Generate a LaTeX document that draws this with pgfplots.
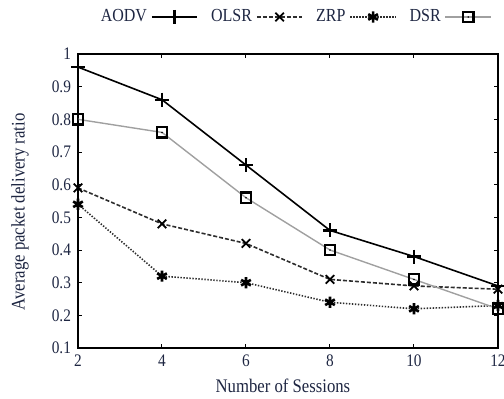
\documentclass[border=0pt]{standalone}
\usepackage{fontspec}
\setmainfont{Liberation Serif}[FakeStretch=0.87]
\usepackage{pgfplots}
\pgfplotsset{compat=1.18}
\definecolor{txt}{RGB}{30,38,66}
\definecolor{dk}{RGB}{45,45,45}
\definecolor{lg}{RGB}{160,160,160}
\pgfdeclareplotmark{boxdot}{%
  \pgfpathrectangle{\pgfpoint{-\pgfplotmarksize}{-\pgfplotmarksize}}{\pgfpoint{2\pgfplotmarksize}{2\pgfplotmarksize}}%
  \pgfusepathqstroke
  \pgfpathcircle{\pgfpointorigin}{0.45pt}%
  \pgfusepathqfill}
\begin{document}
\begin{tikzpicture}
\begin{axis}[
  scale only axis, width=210pt, height=147pt,
  xmin=2, xmax=12, ymin=0.1, ymax=1,
  xtick={2,4,6,8,10,12},
  ytick={0.1,0.2,0.3,0.4,0.5,0.6,0.7,0.8,0.9,1},
  tick align=inside, major tick length=2.2pt,
  axis line style={line width=0.6pt},
  tick style={black, line width=0.5pt},
  /pgf/number format/assume math mode=true,
  ticklabel style={font=\fontsize{8.8}{10}\selectfont, text=txt},
  xlabel={Number of Sessions},
  ylabel={Average packet delivery ratio},
  label style={font=\fontsize{9.6}{11}\selectfont, text=txt},
  x label style={at={(axis description cs:0.488,-0.129)}, anchor=center},
  y label style={at={(axis description cs:-0.138,0.463)}, anchor=center},
  legend plot pos=right,
  legend columns=4,
  legend image code/.code={\draw[mark repeat=2,mark phase=2] plot coordinates {(0cm,0cm) (0.4cm,0cm) (0.8cm,0cm)};},
  legend style={at={(axis description cs:0.986,1.126)}, anchor=east, draw=none, fill=none,
    font=\fontsize{9.2}{10}\selectfont, text=txt, inner sep=0pt,
    /tikz/every even column/.append style={column sep=4.5pt}},
]
\coordinate (sw) at (rel axis cs:0,0);
\addplot[black, line width=0.8pt, mark=+, mark size=3.5pt, mark options={line width=1.2pt}]
  coordinates {(2,0.96) (4,0.86) (6,0.66) (8,0.46) (10,0.38) (12,0.29)};
\addlegendentry{AODV}
\addplot[dk, line width=0.8pt, dash pattern=on 2pt off 1pt, mark=x, mark size=3pt, mark options={black, solid, line width=0.9pt}]
  coordinates {(2,0.59) (4,0.48) (6,0.42) (8,0.31) (10,0.29) (12,0.28)};
\addlegendentry{OLSR}
\addplot[dk, line width=0.8pt, dash pattern=on 0.7pt off 0.8pt, mark=asterisk, mark size=2.8pt, mark options={black, solid, line width=1.3pt}]
  coordinates {(2,0.54) (4,0.32) (6,0.30) (8,0.24) (10,0.22) (12,0.23)};
\addlegendentry{ZRP}
\addplot[lg, line width=0.7pt, mark=boxdot, mark size=2.6pt, mark options={black, solid, line width=1.2pt}]
  coordinates {(2,0.80) (4,0.76) (6,0.56) (8,0.40) (10,0.31) (12,0.22)};
\addlegendentry{DSR}
\end{axis}
\pgfresetboundingbox
\useasboundingbox ([shift={(-39pt,-25pt)}]sw) rectangle ([shift={(213pt,174pt)}]sw);
\end{tikzpicture}
\end{document}
